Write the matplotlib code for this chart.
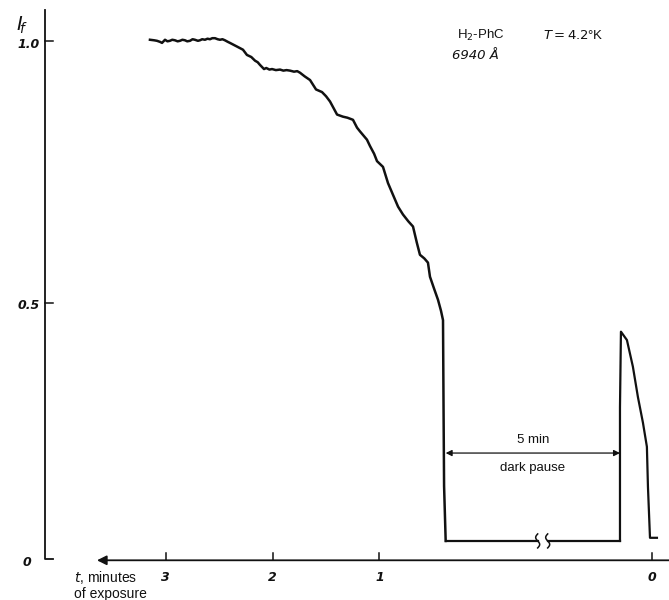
import numpy as np
import matplotlib
matplotlib.use("Agg")
import matplotlib.pyplot as plt

# ---------------- data ----------------
# exposure curve before the dark pause: t (minutes of exposure), I_f (relative)
t_before = [3.149, 3.110, 3.083, 3.055, 3.036, 3.008, 2.985, 2.962, 2.940, 2.915,
            2.890, 2.868, 2.845, 2.821, 2.800, 2.774, 2.750, 2.728, 2.700, 2.681,
            2.660, 2.634, 2.610, 2.587, 2.565, 2.540, 2.515, 2.493, 2.470, 2.447,
            2.420, 2.400, 2.334, 2.278, 2.241, 2.200, 2.165, 2.140, 2.119, 2.081,
            2.060, 2.030, 2.006, 1.970, 1.931, 1.900, 1.870, 1.838, 1.800, 1.770,
            1.744, 1.700, 1.650, 1.594, 1.538, 1.500, 1.463, 1.397, 1.342, 1.300,
            1.248, 1.210, 1.183, 1.117, 1.089, 1.050, 1.023, 0.967, 0.920, 0.870,
            0.826, 0.780, 0.730, 0.686, 0.650, 0.621, 0.580, 0.546, 0.527, 0.490,
            0.452, 0.424, 0.405, 0.400, 0.395, 0.380]
I_before = [1.003, 1.002, 1.001, 0.999, 0.997, 1.003, 1.000, 1.001, 1.003, 1.002,
            1.000, 1.001, 1.003, 1.002, 1.000, 1.001, 1.004, 1.003, 1.001, 1.002,
            1.004, 1.003, 1.005, 1.004, 1.006, 1.006, 1.004, 1.003, 1.004, 1.002,
            0.999, 0.997, 0.990, 0.984, 0.974, 0.970, 0.963, 0.960, 0.955, 0.947,
            0.949, 0.946, 0.947, 0.945, 0.946, 0.944, 0.945, 0.944, 0.942, 0.943,
            0.940, 0.933, 0.926, 0.908, 0.903, 0.895, 0.885, 0.860, 0.856, 0.854,
            0.850, 0.835, 0.828, 0.812, 0.800, 0.785, 0.771, 0.760, 0.729, 0.705,
            0.684, 0.669, 0.656, 0.646, 0.615, 0.592, 0.585, 0.577, 0.550, 0.528,
            0.506, 0.485, 0.467, 0.300, 0.150, 0.045]

# exposure curve after the 5-minute dark pause (t in minutes, 0 = end)
t_after = [0.297, 0.297, 0.288, 0.232, 0.176, 0.129, 0.082, 0.045, 0.035, 0.016, -0.049]
I_after = [0.045, 0.300, 0.445, 0.429, 0.378, 0.320, 0.271, 0.225, 0.148, 0.051, 0.051]

baseline_I = 0.045          # level drawn during the dark pause
x_ticks = [3, 2, 1, 0]
x_tick_labels = ["3", "2", "1", "0"]
y_ticks = [1.0, 0.5, 0.0]
y_tick_labels = ["1.0", "0.5", "0"]

# ---------------- layout ----------------
PAUSE_SHIFT = 1.549   # axis offset applied to post-pause segment (broken time axis)
XLIM = (4.553, -1.711)
YLIM = (-0.0679, 1.079)
W, H = 669, 600
px_x = (XLIM[0] - XLIM[1]) / W   # data units per pixel (x, positive = leftwards)
px_y = (YLIM[1] - YLIM[0]) / H

fig = plt.figure(figsize=(6.69, 6.0), dpi=100)
ax = fig.add_axes([0, 0, 1, 1])
ax.set_xlim(*XLIM)
ax.set_ylim(*YLIM)
ax.axis("off")

lc = "#111111"

def shift(t):
    return t - PAUSE_SHIFT

# main curve
ax.plot(t_before, I_before, color=lc, lw=1.8, solid_joinstyle="round")
# post-pause curve
ax.plot([shift(t) for t in t_after], I_after, color=lc, lw=1.6, solid_joinstyle="round")

# dark-pause baseline with break marks
t_left = t_before[-1]
t_right = shift(t_after[0])
b1 = t_left - 92 * px_x     # break positions
b2 = b1 - 10 * px_x
ax.plot([t_left, b1], [baseline_I, baseline_I], color=lc, lw=1.6)
ax.plot([b2, t_right], [baseline_I, baseline_I], color=lc, lw=1.6)
s = np.linspace(-1, 1, 30)
for bx in (b1, b2):
    ax.plot(bx - 2.0 * px_x * np.sin(np.pi * s), baseline_I - 7 * px_y * s,
            color=lc, lw=1.1)

# double arrow "5 min / dark pause"
arr_y = 0.213
ax.annotate("", xy=(t_left, arr_y), xytext=(t_right, arr_y),
            arrowprops=dict(arrowstyle="<|-|>", color=lc, lw=0.9,
                            mutation_scale=9, shrinkA=0, shrinkB=0))
mid = (t_left + t_right) / 2
ax.text(mid, 0.238, "5 min", ha="center", va="center", fontsize=9.5,
        family="Liberation Sans", color=lc)
ax.text(mid, 0.185, "dark pause", ha="center", va="center", fontsize=9.5,
        family="Liberation Sans", color=lc)

# y axis (hand-drawn style)
y_ax_x = 4.132
ax.plot([y_ax_x, y_ax_x, y_ax_x - 8 * px_x], [1.060, 0.010, 0.010], color=lc, lw=1.3)
for yv, lab in zip(y_ticks, y_tick_labels):
    if yv > 0:
        ax.plot([y_ax_x, y_ax_x - 8 * px_x], [yv, yv], color=lc, lw=1.1)
        ax.text(y_ax_x + 5 * px_x, yv - 3 * px_y, lab, ha="right", va="center",
                fontsize=9, style="italic", weight="bold", color=lc)
    else:
        ax.text(y_ax_x + 18 * px_x, 0.003, lab, ha="center", va="center",
                fontsize=9, style="italic", weight="bold", color=lc)
ax.text(4.35, 1.030, r"$\mathit{I}_{\!\mathit{f}}$", ha="center", va="center",
        fontsize=14, color=lc)

# x axis (arrow pointing to larger exposure times, i.e. leftwards)
x_ax_y = 0.008
ax.annotate("", xy=(3.645, x_ax_y), xytext=(XLIM[1], x_ax_y),
            arrowprops=dict(arrowstyle="-|>", color=lc, lw=1.3,
                            mutation_scale=14, shrinkA=0, shrinkB=0))
for xv, lab in zip(x_ticks, x_tick_labels):
    xp = xv if xv != 0 else shift(xv)
    ax.plot([xp, xp], [x_ax_y, x_ax_y + 7 * px_y], color=lc, lw=1.1)
    ax.text(xp, x_ax_y - 17 * px_y, lab, ha="center", va="center",
            fontsize=9, style="italic", weight="bold", color=lc)
ax.text(3.86, -0.040, "$t$, minutes\nof exposure", ha="left", va="center",
        fontsize=10, family="Liberation Sans", color=lc, linespacing=1.1)

# header texts
ax.text(0.274, 1.012, r"H$_{2}$-PhC", ha="left", va="center", fontsize=9.5,
        family="Liberation Sans", color=lc)
ax.text(0.321, 0.972, "6940 Å", ha="left", va="center", fontsize=9.5,
        style="italic", color=lc)
ax.text(-0.531, 1.012, r"$T=4.2$°K", ha="left", va="center", fontsize=9.5,
        family="Liberation Sans", color=lc)

fig.savefig("out.png", dpi=100, facecolor="white")
